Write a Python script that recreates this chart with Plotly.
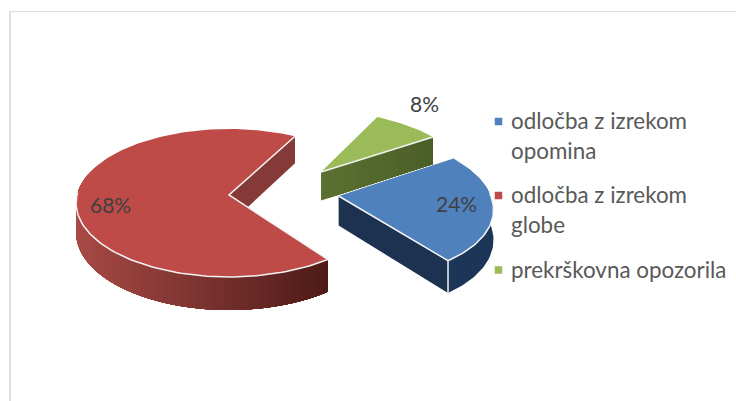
import math
import plotly.graph_objects as go

categories = ["odločba z izrekom opomina", "odločba z izrekom globe", "prekrškovna opozorila"]
legend_lines = [["odločba z izrekom", "opomina"], ["odločba z izrekom", "globe"], ["prekrškovna opozorila"]]
values = [24, 68, 8]
first_slice_angle = 57.2
top_colors = ["#4f81bd", "#be4b48", "#9bbb59"]
FONT = "Lato"

# view parameters of the tilted pie
CX, CY, A, B, K, H = 229, 195, 152, 73.1, 0.108, 29.5
explode = {0: (0.72, 0.014), 1: (0.0, 0.0), 2: (0.627, -0.326)}


def project(i, deg, r=1.0, low=False):
    a = math.radians(deg)
    u = explode[i][0] + r * math.sin(a)
    v = explode[i][1] - r * math.cos(a)
    d = 1 - K * v
    x = CX + u * A / d
    y = CY + v * B / d + (H / d if low else 0)
    return x, y


def mix(c1, c2, t):
    t = max(0, min(1, t))
    p = [int(c1[j:j + 2], 16) for j in (1, 3, 5)]
    q = [int(c2[j:j + 2], 16) for j in (1, 3, 5)]
    return "#%02x%02x%02x" % tuple(round(a + (b - a) * t) for a, b in zip(p, q))


def lerp(p, q, t):
    return (p[0] + (q[0] - p[0]) * t, p[1] + (q[1] - p[1]) * t)


fig = go.Figure()


def poly(pts, color):
    fig.add_trace(go.Scatter(x=[p[0] for p in pts] + [pts[0][0]], y=[p[1] for p in pts] + [pts[0][1]],
                             mode="lines", fill="toself", fillcolor=color,
                             line=dict(color=color, width=0), hoverinfo="skip", showlegend=False))


def stroke(pts, width=1.5):
    fig.add_trace(go.Scatter(x=[p[0] for p in pts], y=[p[1] for p in pts], mode="lines",
                             line=dict(color="#f4f4f4", width=width), hoverinfo="skip", showlegend=False))


def arc(i, a0, a1, low=False, n=None):
    n = n or max(2, int(abs(a1 - a0) / 1.5))
    return [project(i, a0 + (a1 - a0) * k / n, low=low) for k in range(n + 1)]


# slice angles from the values (clockwise from the top)
total = sum(values)
spans = {}
start = first_slice_angle
for i, val in enumerate(values):
    spans[i] = (start, start + val / total * 360)
    start = spans[i][1]

# green slice
s0, s1 = spans[2]
s0 -= 360 if s0 > 360 else 0
s1 -= 360 if s1 > 360 else 0
N = 16
ap0, ap1 = project(2, 0, 0), project(2, s1)
ap0l, ap1l = project(2, 0, 0, True), project(2, s1, 1, True)
for k in range(N):
    t0, t1 = k / N, 1.0
    poly([lerp(ap0, ap1, t0), lerp(ap0, ap1, t1), lerp(ap0l, ap1l, t1), lerp(ap0l, ap1l, t0)],
         mix("#5b7130", "#4d5e29", (k + 0.5) / N))
poly([project(2, 0, 0)] + arc(2, s0, s1), top_colors[2])
stroke([project(2, 0, 0), project(2, s1)])

# red slice
r0, r1 = spans[1]
wall_stop = 290
poly([project(1, 0, 0), project(1, r1 - 360), project(1, r1 - 360, 1, True), project(1, 0, 0, True)], "#853a38")
# outer wall: each strip reaches to the front end, so the next one paints over it without seams
deg = wall_stop
while deg > r0:
    d2 = max(deg - 3, r0)
    n_pts = max(2, int((deg - r0) / 2))
    xm = project(1, (deg + d2) / 2)[0]
    poly(arc(1, r0, deg, n=n_pts) + arc(1, deg, r0, low=True, n=n_pts), mix("#a84a46", "#4e1b18", (xm - 76) / 251))
    deg = d2
poly([project(1, 0, 0)] + arc(1, r0, r1), top_colors[1])
stroke([project(1, r1 - 360), project(1, 0, 0), project(1, r0)] + arc(1, r0, 272))

# blue slice
b0, b1 = spans[0]
poly([project(0, 0, 0), project(0, b1), project(0, b1, 1, True), project(0, 0, 0, True)], "#1c3250")
poly(arc(0, b0 + 10, b1) + arc(0, b1, b0 + 10, low=True), "#1d3657")
poly([project(0, 0, 0)] + arc(0, b0, b1), top_colors[0])
stroke([project(0, 0, 0), project(0, b1)] + arc(0, b1, 88))
stroke([project(0, b1), project(0, b1, 1, True)])

# data labels
label_pos = [(456.5, 203), (110, 204), (424, 103.5)]
for val, (lx, ly) in zip(values, label_pos):
    fig.add_annotation(x=lx, y=ly, text=f"{val}%", showarrow=False, xanchor="center", yanchor="middle",
                       font=dict(family=FONT, size=21, color="#404040"))

# legend
legend_y = [121.5, 195.5, 270]
text_y = [120, 194, 269]
legend_pitch = 30
fig.add_trace(go.Scatter(x=[498.5] * 3, y=legend_y, mode="markers",
                         marker=dict(symbol="square", size=7.5, color=top_colors, line=dict(width=0)),
                         hoverinfo="skip", showlegend=False))
for lines, ly in zip(legend_lines, text_y):
    for n, line in enumerate(lines):
        fig.add_annotation(x=509, y=ly + n * legend_pitch, text=line, showarrow=False, xanchor="left",
                           yanchor="middle", font=dict(family=FONT, size=22.4, color="#595959"))

# chart frame
fig.add_shape(type="line", x0=10, x1=10, y0=11.5, y1=401, line=dict(color="#dedede", width=2))
fig.add_shape(type="line", x0=10, x1=736, y0=11.5, y1=11.5, line=dict(color="#dedede", width=1.2))

fig.update_layout(width=736, height=401, margin=dict(l=0, r=0, t=0, b=0), paper_bgcolor="white",
                  plot_bgcolor="white", showlegend=False,
                  xaxis=dict(range=[0, 736], visible=False, fixedrange=True),
                  yaxis=dict(range=[401, 0], visible=False, fixedrange=True))
fig.write_html("out.html", config={"displayModeBar": False},
               post_script="document.body.style.margin='0';document.documentElement.style.overflow='hidden';")
